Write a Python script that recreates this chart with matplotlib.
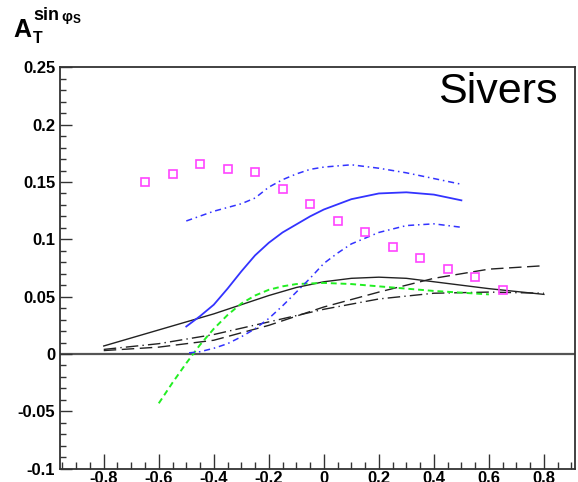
import matplotlib
matplotlib.use("Agg")
import matplotlib.pyplot as plt
from matplotlib.ticker import MultipleLocator, FixedLocator

plt.rcParams['font.family'] = ['Liberation Sans', 'DejaVu Sans']
plt.rcParams['axes.unicode_minus'] = False

# ---- data ----
data_x = [-0.65, -0.55, -0.45, -0.35, -0.25, -0.15, -0.05, 0.05, 0.15, 0.25, 0.35, 0.45, 0.55, 0.65]
data_y = [0.150, 0.157, 0.166, 0.161, 0.159, 0.144, 0.131, 0.116, 0.106, 0.093, 0.084, 0.074, 0.0675, 0.056]

blue_x = [-0.5, -0.45, -0.4, -0.35, -0.3, -0.25, -0.2, -0.15, -0.1, -0.05, 0.0, 0.1, 0.2, 0.3, 0.4, 0.5]
blue_y = [0.024, 0.033, 0.043, 0.057, 0.072, 0.086, 0.097, 0.106, 0.113, 0.120, 0.126, 0.135, 0.140, 0.141, 0.139, 0.134]

blue_up_x = [-0.5, -0.4, -0.3, -0.25, -0.2, -0.15, -0.1, -0.05, 0.0, 0.1, 0.2, 0.3, 0.4, 0.5]
blue_up_y = [0.116, 0.1245, 0.131, 0.136, 0.1455, 0.152, 0.157, 0.161, 0.163, 0.165, 0.162, 0.158, 0.153, 0.148]

blue_lo_x = [-0.49, -0.45, -0.4, -0.35, -0.3, -0.25, -0.2, -0.15, -0.1, -0.05, 0.0, 0.05, 0.1, 0.2, 0.3, 0.4, 0.5]
blue_lo_y = [0.001, 0.002, 0.005, 0.009, 0.015, 0.022, 0.031, 0.042, 0.054, 0.066, 0.079, 0.088, 0.096, 0.106, 0.112, 0.1135, 0.1105]

green_x = [-0.6, -0.55, -0.5, -0.45, -0.4, -0.35, -0.3, -0.25, -0.2, -0.15, -0.1, 0.0, 0.1, 0.2, 0.3, 0.4, 0.5, 0.6]
green_y = [-0.043, -0.025, -0.008, 0.008, 0.022, 0.034, 0.044, 0.051, 0.056, 0.059, 0.061, 0.062, 0.061, 0.059, 0.057, 0.055, 0.0535, 0.052]

black_x = [-0.8, -0.6, -0.4, -0.3, -0.2, -0.1, 0.0, 0.1, 0.2, 0.3, 0.4, 0.5, 0.6, 0.7, 0.8]
black_y = [0.007, 0.021, 0.035, 0.043, 0.051, 0.058, 0.063, 0.066, 0.067, 0.066, 0.063, 0.060, 0.057, 0.0545, 0.052]

dashA_x = [-0.8, -0.6, -0.4, -0.2, 0.0, 0.2, 0.4, 0.6, 0.8]
dashA_y = [0.003, 0.006, 0.012, 0.025, 0.041, 0.054, 0.066, 0.074, 0.077]

dashB_x = [-0.8, -0.6, -0.4, -0.2, 0.0, 0.2, 0.4, 0.6, 0.8]
dashB_y = [0.004, 0.009, 0.017, 0.028, 0.039, 0.048, 0.053, 0.054, 0.053]

xticks = [-0.8, -0.6, -0.4, -0.2, 0.0, 0.2, 0.4, 0.6, 0.8]
xticklabels = ["-0.8", "-0.6", "-0.4", "-0.2", "0", "0.2", "0.4", "0.6", "0.8"]
yticks = [-0.1, -0.05, 0.0, 0.05, 0.1, 0.15, 0.2, 0.25]
yticklabels = ["-0.1", "-0.05", "0", "0.05", "0.1", "0.15", "0.2", "0.25"]

# ---- figure ----
fig = plt.figure(figsize=(5.78, 4.82), dpi=100)
ax = fig.add_axes([60/578, 1-468.7/482, (575-60)/578, (468.7-67.3)/482])
ax.set_xlim(-0.959, 0.913)
ax.set_ylim(-0.1, 0.25)

ax.axhline(0, color='#555555', lw=1.6, zorder=1)

ax.plot(black_x, black_y, color='#222222', lw=1.0)
ax.plot(dashA_x, dashA_y, color='#222222', lw=1.0, dashes=(9, 4))
ax.plot(dashB_x, dashB_y, color='#222222', lw=1.0, dashes=(9, 3, 1, 3))
ax.plot(green_x, green_y, color='#22ee22', lw=1.4, dashes=(3, 2))
ax.plot(blue_x, blue_y, color='#3333ff', lw=1.3)
ax.plot(blue_up_x, blue_up_y, color='#3333ff', lw=1.1, dashes=(4, 2.5, 1, 2.5))
ax.plot(blue_lo_x, blue_lo_y, color='#3333ff', lw=1.1, dashes=(4, 2.5, 1, 2.5))
ax.plot(data_x, data_y, linestyle='none', marker='s', markersize=5.5,
        markerfacecolor='none', markeredgecolor='#ff44ff', markeredgewidth=1.2)

for s in ax.spines.values():
    s.set_color('#333333')
    s.set_linewidth(1.3)

ax.xaxis.set_major_locator(FixedLocator(xticks))
ax.set_xticklabels(xticklabels)
ax.xaxis.set_minor_locator(MultipleLocator(0.05))
ax.yaxis.set_major_locator(FixedLocator(yticks))
ax.set_yticklabels(yticklabels)
ax.yaxis.set_minor_locator(MultipleLocator(0.01))

ax.tick_params(axis='x', which='major', direction='in', length=10.5, width=1.0, color='#333333', pad=2)
ax.tick_params(axis='x', which='minor', direction='in', length=5, width=1.0, color='#333333')
ax.tick_params(axis='y', which='major', direction='in', length=8.6, width=1.0, color='#333333', pad=3.5)
ax.tick_params(axis='y', which='minor', direction='in', length=4.3, width=1.0, color='#333333')
for lab in ax.get_xticklabels() + ax.get_yticklabels():
    lab.set_fontweight('bold')
    lab.set_fontsize(12)

ax.text(0.848, 0.219, "Sivers", fontsize=31, ha='right', va='baseline')

# title A_T^{sin phi_S}
fig.text(13/578, 1-37/482, "A", fontsize=18, fontweight='bold', va='baseline', ha='left')
fig.text(33/578, 1-43/482, "T", fontsize=11.5, fontweight='bold', va='baseline', ha='left')
fig.text(33/578, 1-20.5/482, "sin", fontsize=13, fontweight='bold', va='baseline', ha='left')
fig.text(61/578, 1-21/482, "\u03c6", fontsize=11, fontweight='bold', va='baseline', ha='left')
fig.text(72.5/578, 1-23/482, "S", fontsize=8.5, fontweight='bold', va='baseline', ha='left')

fig.savefig("out.png", dpi=100)
